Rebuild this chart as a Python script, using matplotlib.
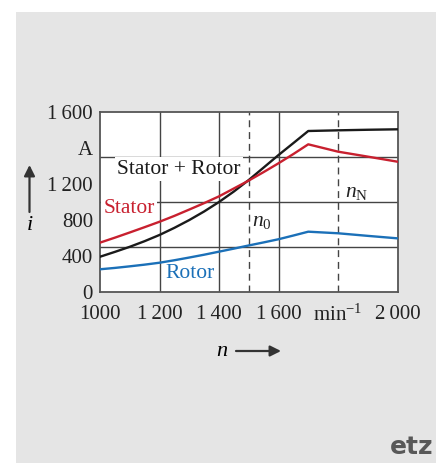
import matplotlib
matplotlib.use("Agg")
import matplotlib.pyplot as plt
from matplotlib.patches import Rectangle

plt.rcParams['font.family'] = ['Liberation Serif', 'DejaVu Serif']
plt.rcParams['mathtext.fontset'] = 'custom'
plt.rcParams['mathtext.rm'] = 'Liberation Serif'
plt.rcParams['mathtext.it'] = 'Liberation Serif:italic'

# speed n in min^-1, currents in A
n = [1000, 1050, 1100, 1150, 1200, 1250, 1300, 1350, 1400, 1450, 1500, 1550, 1600, 1650, 1700,
     1800, 1900, 2000]
stator_rotor = [315, 358, 403, 453, 508, 571, 640, 716, 800, 893, 995, 1105, 1216, 1322, 1429,
                1435, 1440, 1444]
stator = [440, 484, 530, 577, 625, 677, 733, 790, 850, 920, 990, 1065, 1143, 1225, 1311,
          1246, 1202, 1157]
rotor = [204, 216, 230, 245, 262, 284, 308, 333, 360, 387, 415, 442, 470, 503, 537,
         523, 500, 478]

n0 = 1500
nN = 1800

x_ticks = [1000, 1200, 1400, 1600, 1800, 2000]
x_labels = ['1000', '1\u2009200', '1\u2009400', '1\u2009600', 'min$^{-1}$', '2\u2009000']
y_ticks = [0, 320, 640, 960, 1280, 1600]
y_labels = ['0', '400', '800', '1\u2009200', 'A', '1\u2009600']
x_grid = [1200, 1400, 1600]
y_grid = [400, 800, 1200]

fig = plt.figure(figsize=(4.36, 4.63), dpi=100)
fig.patch.set_facecolor('white')
# grey panel behind the chart
fig.add_artist(Rectangle((16 / 436, 0), 1, (463 - 12) / 463, transform=fig.transFigure,
                         facecolor='#e5e5e5', edgecolor='none', zorder=-10))

ax = fig.add_axes([100 / 436, 1 - 292.3 / 463, 297.5 / 436, 180.6 / 463])
ax.set_facecolor('white')
ax.set_xlim(1000, 2000)
ax.set_ylim(0, 1600)

ax.set_xticks(x_ticks)
ax.set_xticklabels(x_labels)
ax.set_yticks(y_ticks)
ax.set_yticklabels(y_labels)
ax.tick_params(which='both', length=0, labelsize=15, colors='#222222')
ax.tick_params(axis='x', pad=9)
ax.tick_params(axis='y', pad=5)
for s in ax.spines.values():
    s.set_color('#555555')
    s.set_linewidth(1.3)

# grid (does not follow the labelled ticks)
for g in x_grid:
    ax.axvline(g, color='#444444', linewidth=1.0, zorder=1)
for g in y_grid:
    ax.axhline(g, color='#444444', linewidth=1.0, zorder=1)

# operating points
ax.axvline(n0, color='#444444', linewidth=1.0, linestyle=(0, (5, 3.5)), zorder=1.5)
ax.axvline(nN, color='#444444', linewidth=1.0, linestyle=(0, (5, 3.5)), zorder=1.5)

ax.plot(n, stator_rotor, color='#1a1a1a', linewidth=1.7, zorder=3)
ax.plot(n, stator, color='#c8202f', linewidth=1.7, zorder=3)
ax.plot(n, rotor, color='#1b70b8', linewidth=1.7, zorder=3)

box = dict(facecolor='white', edgecolor='none', pad=1.5)
ax.text(1265, 1092, 'Stator + Rotor', color='#1a1a1a', fontsize=15.5,
        ha='center', va='center', bbox=box, zorder=2)
ax.text(1097, 744, 'Stator', color='#c8202f', fontsize=15.5,
        ha='center', va='center', bbox=box, zorder=2)
ax.text(1302, 165, 'Rotor', color='#1b70b8', fontsize=15.5,
        ha='center', va='center', zorder=2)
ax.text(1510, 624, r'$n_0$', color='#222222', fontsize=15.5, ha='left', va='center')
ax.text(1822, 880, r'$n_\mathrm{N}$', color='#222222', fontsize=15.5, ha='left', va='center')

# axis symbols with arrows
arrow = dict(arrowstyle='-|>', color='#333333', lw=1.6, mutation_scale=16, shrinkA=0, shrinkB=0)
ax.annotate('', xy=(29.5, 463 - 165), xytext=(29.5, 463 - 212),
            xycoords='figure pixels', textcoords='figure pixels', arrowprops=arrow)
fig.text(29.5 / 436, 1 - 226 / 463, r'$i$', fontsize=16, ha='center', va='center')
ax.annotate('', xy=(281, 463 - 351), xytext=(236, 463 - 351),
            xycoords='figure pixels', textcoords='figure pixels', arrowprops=arrow)
fig.text(222 / 436, 1 - 352 / 463, r'$n$', fontsize=16, ha='center', va='center')

fig.text(433 / 436, 1 - 447 / 463, 'etz', family='DejaVu Sans', fontweight='bold',
         fontsize=18, color='#585858', ha='right', va='center')

fig.savefig('out.png', dpi=100)
